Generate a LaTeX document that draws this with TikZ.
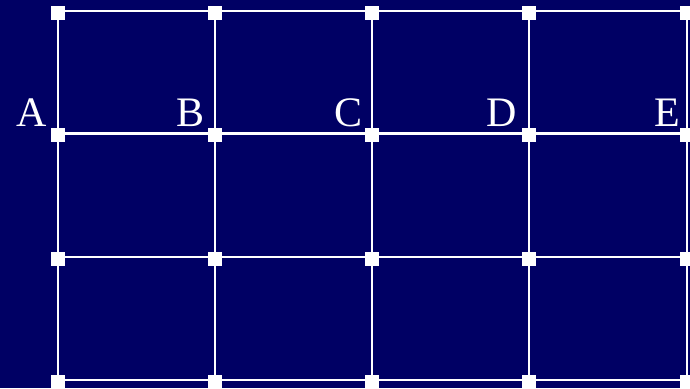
\documentclass[tikz,border=0pt]{standalone}
\usepackage{fontspec}
\setmainfont{Liberation Serif}
\definecolor{navy}{RGB}{0,0,100}
\begin{document}
\begin{tikzpicture}[x=1pt,y=-1pt,
  gridline/.style={draw=white,line width=2pt},
  thickline/.style={draw=white,line width=3pt},
  joint/.style={fill=white,draw=none,minimum size=14pt,inner sep=0pt,outer sep=0pt},
  letter/.style={text=white,font=\fontsize{42}{42}\selectfont,anchor=base east,inner sep=0pt}]
\fill[navy] (0,0) rectangle (690,388);
\useasboundingbox (0,0) rectangle (690,388);
% coordinates
\foreach \c/\x in {1/58,2/215,3/372,4/529,5/687}{
  \foreach \r/\y in {1/11,2/133,3/257,4/380}{
    \coordinate (p\c\r) at (\x,\y);
  }
}
% horizontal lines
\draw[gridline] (p11) -- (p51);
\draw[thickline] (p12) -- (p52);
\draw[gridline] (p13) -- (p53);
\draw[gridline] (p14) -- (p54);
% vertical lines
\foreach \c in {1,...,5}{
  \draw[gridline] (p\c1) -- (p\c4);
}
% joints
\foreach \c in {1,...,5}{
  \foreach \r in {1,...,4}{
    \node[joint] (j\c\r) at ([yshift=-1.5pt]p\c\r) {};
  }
}
% labels
\node[letter] (la) at (47,126) {A};
\node[letter] (lb) at (205,126) {B};
\node[letter] (lc) at (363,126) {C};
\node[letter] (ld) at (517,126) {D};
\node[letter] (le) at (680,126) {E};
\end{tikzpicture}
\end{document}
